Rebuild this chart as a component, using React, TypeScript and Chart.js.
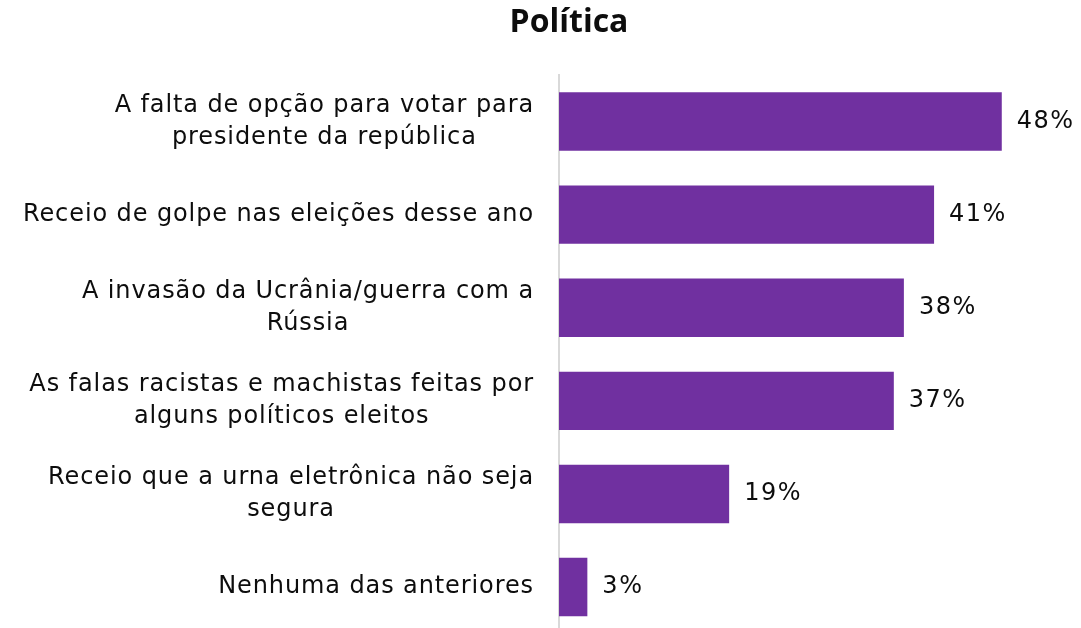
import React, { useEffect, useRef } from "react";
import { Chart, registerables } from "chart.js";

Chart.register(...registerables);

const TITLE = "Política";
const categories: string[][] = [
  ["A falta de opção para votar para", "presidente da república"],
  ["Receio de golpe nas eleições desse ano"],
  ["A invasão da Ucrânia/guerra com a", "Rússia"],
  ["As falas racistas e machistas feitas por", "alguns políticos eleitos"],
  ["Receio que a urna eletrônica não seja", "segura"],
  ["Nenhuma das anteriores"],
];
const values: number[] = [48.4, 41.0, 37.7, 36.6, 18.6, 3.1];
const valueLabels: string[] = ["48%", "41%", "38%", "37%", "19%", "3%"];

const FONT = "'DejaVu Sans', sans-serif";
const TITLE_FONT = "'Open Sans', sans-serif";
const TEXT_COLOR = "#0d0d0d";
const BAR_COLOR = "#7030A0";

const labelsPlugin = {
  id: "customLabels",
  afterDraw(chart: any) {
    const ctx = chart.ctx;
    const yScale = chart.scales.y;
    const meta = chart.getDatasetMeta(0);
    ctx.save();
    // title
    ctx.fillStyle = TEXT_COLOR;
    ctx.font = `bold 32px ${TITLE_FONT}`;
    ctx.textAlign = "center";
    ctx.textBaseline = "middle";
    ctx.fillText(TITLE, 569, 23);

    // category labels
    ctx.font = `24px ${FONT}`;
    (ctx as any).letterSpacing = "0.9px";
    const right = chart.chartArea.left - 25;
    const lineH = 32;
    categories.forEach((lines, i) => {
      const y = yScale.getPixelForTick(i);
      const w = Math.max(...lines.map((l) => ctx.measureText(l).width));
      const cx = right - w / 2;
      ctx.textAlign = "center";
      lines.forEach((l, j) => {
        ctx.fillText(l, cx, y + (j - (lines.length - 1) / 2) * lineH);
      });
    });

    // value labels
    (ctx as any).letterSpacing = "1.5px";
    ctx.textAlign = "left";
    meta.data.forEach((bar: any, i: number) => {
      ctx.fillText(valueLabels[i], bar.x + 15, bar.y);
    });
    ctx.restore();
  },
};

export default function App() {
  const ref = useRef<HTMLCanvasElement | null>(null);
  useEffect(() => {
    if (!ref.current) return;
    const chart = new Chart(ref.current, {
      type: "bar",
      data: {
        labels: categories.map((c) => c.join(" ")),
        datasets: [
          {
            data: values,
            backgroundColor: BAR_COLOR,
            barPercentage: 0.627,
            categoryPercentage: 1,
          },
        ],
      },
      options: {
        indexAxis: "y",
        responsive: false,
        animation: false,
        devicePixelRatio: 1,
        layout: { padding: { top: 75, right: 28, bottom: 6.4, left: 0 } },
        plugins: {
          legend: { display: false },
          title: { display: false },
          tooltip: { enabled: false },
        },
        scales: {
          x: { display: false, min: 0, max: 54 },
          y: {
            grid: { display: false },
            ticks: { display: false },
            border: { display: true, color: "#d9d9d9", width: 2 },
            afterFit: (scale: any) => {
              scale.width = 559;
            },
          },
        },
      },
      plugins: [labelsPlugin],
    });
    return () => chart.destroy();
  }, []);
  return (
    <div
      style={{
        position: "fixed",
        left: 0,
        top: 0,
        width: 1081,
        height: 628,
        overflow: "hidden",
        background: "#fff",
      }}
    >
      <canvas ref={ref} width={1081} height={640} style={{ display: "block" }} />
    </div>
  );
}
